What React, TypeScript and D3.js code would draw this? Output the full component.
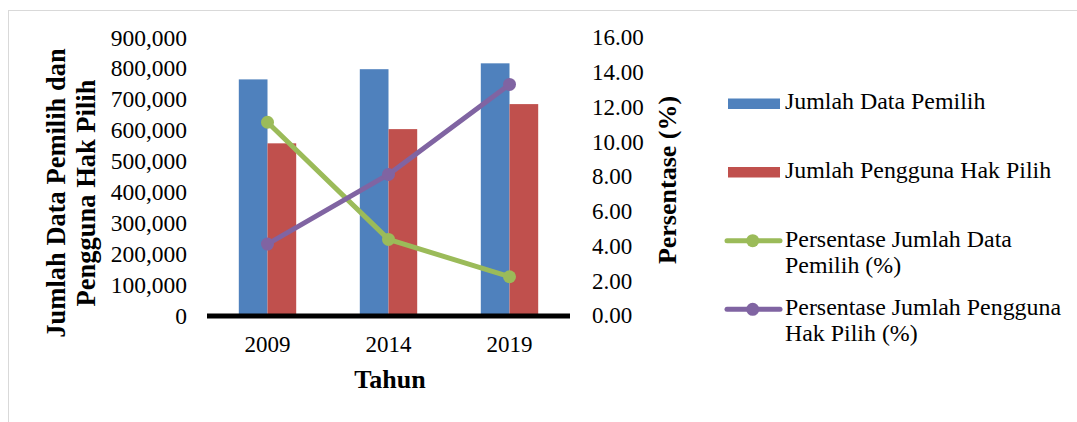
import React from "react";
import * as d3 from "d3";

const years = ["2009", "2014", "2019"];
const jumlahDataPemilih = [766000, 799000, 818000];
const jumlahPenggunaHakPilih = [559000, 605000, 686000];
const persenDataPemilih = [11.15, 4.41, 2.26];
const persenPenggunaHakPilih = [4.14, 8.15, 13.33];
const leftTicks = [0, 100000, 200000, 300000, 400000, 500000, 600000, 700000, 800000, 900000];
const rightTicks = [0, 2, 4, 6, 8, 10, 12, 14, 16];

const BLUE = "#4F81BD";
const RED = "#C0504D";
const GREEN = "#9BBB59";
const PURPLE = "#8064A2";
const FONT = "Liberation Serif";

export default function App() {
  const x = d3.scaleBand().domain(years).range([207, 570]);
  const yL = d3.scaleLinear().domain([0, 900000]).range([316, 38]);
  const yR = d3.scaleLinear().domain([0, 16]).range([316, 38]);
  const barW = 28.7;
  const cx = (y: string) => (x(y) as number) + x.bandwidth() / 2;
  const fmtL = d3.format(",");
  const fmtR = d3.format(".2f");
  const line = d3
    .line<number>()
    .x((_, i) => cx(years[i]))
    .y((v) => yR(v));

  const legendText = { fontFamily: FONT, fontSize: 23.9, fill: "#000" } as const;

  return (
    <svg
      width={1077}
      height={422}
      style={{ position: "absolute", left: 0, top: 0, background: "#fff" }}
    >
      <rect x={8.5} y={10.5} width={1080} height={420} fill="#fff" stroke="#d9d9d9" strokeWidth={1} />

      {/* bars */}
      {years.map((yr, i) => (
        <g key={yr}>
          <rect x={cx(yr) - barW} y={yL(jumlahDataPemilih[i])} width={barW} height={316 - yL(jumlahDataPemilih[i])} fill={BLUE} />
          <rect x={cx(yr)} y={yL(jumlahPenggunaHakPilih[i])} width={barW} height={316 - yL(jumlahPenggunaHakPilih[i])} fill={RED} />
        </g>
      ))}

      {/* baseline */}
      <line x1={207} x2={570} y1={316} y2={316} stroke="#000" strokeWidth={5} />

      {/* lines */}
      <path d={line(persenDataPemilih) || ""} fill="none" stroke={GREEN} strokeWidth={5} strokeLinejoin="round" />
      <path d={line(persenPenggunaHakPilih) || ""} fill="none" stroke={PURPLE} strokeWidth={5} strokeLinejoin="round" />
      {years.map((yr, i) => (
        <g key={"m" + yr}>
          <circle cx={cx(yr)} cy={yR(persenDataPemilih[i])} r={6.5} fill={GREEN} />
          <circle cx={cx(yr)} cy={yR(persenPenggunaHakPilih[i])} r={6.5} fill={PURPLE} />
        </g>
      ))}

      {/* left ticks */}
      {leftTicks.map((t) => (
        <text key={"l" + t} x={187} y={yL(t)} dy="0.32em" textAnchor="end" fontFamily={FONT} fontSize={23.5}>
          {fmtL(t)}
        </text>
      ))}
      {/* right ticks */}
      {rightTicks.map((t) => (
        <text key={"r" + t} x={592} y={yR(t)} dy="0.32em" textAnchor="start" fontFamily={FONT} fontSize={23}>
          {fmtR(t)}
        </text>
      ))}
      {/* x ticks */}
      {years.map((yr) => (
        <text key={"x" + yr} x={cx(yr)} y={352} textAnchor="middle" fontFamily={FONT} fontSize={23}>
          {yr}
        </text>
      ))}

      {/* axis titles */}
      <text x={390} y={388} textAnchor="middle" fontFamily={FONT} fontSize={26} fontWeight="bold">
        Tahun
      </text>
      <g transform="translate(65,193) rotate(-90)">
        <text x={0} y={0} textAnchor="middle" fontFamily={FONT} fontSize={26.5} fontWeight="bold">
          Jumlah Data Pemilih dan
        </text>
        <text x={0} y={30} textAnchor="middle" fontFamily={FONT} fontSize={26.5} fontWeight="bold">
          Pengguna Hak Pilih
        </text>
      </g>
      <g transform="translate(676,180) rotate(-90)">
        <text x={0} y={0} textAnchor="middle" fontFamily={FONT} fontSize={26} fontWeight="bold">
          Persentase (%)
        </text>
      </g>

      {/* legend */}
      <rect x={728} y={98.5} width={52} height={10.5} fill={BLUE} />
      <text x={785} y={109} {...legendText}>Jumlah Data Pemilih</text>
      <rect x={728} y={167} width={52} height={10.5} fill={RED} />
      <text x={785} y={178} {...legendText}>Jumlah Pengguna Hak Pilih</text>

      <line x1={727} x2={780} y1={240.7} y2={240.7} stroke={GREEN} strokeWidth={5} strokeLinecap="round" />
      <circle cx={752.7} cy={240.7} r={6.5} fill={GREEN} />
      <text x={785} y={247} {...legendText}>Persentase Jumlah Data</text>
      <text x={785} y={273} {...legendText}>Pemilih (%)</text>

      <line x1={727} x2={780} y1={309.3} y2={309.3} stroke={PURPLE} strokeWidth={5} strokeLinecap="round" />
      <circle cx={752.7} cy={309.3} r={6.5} fill={PURPLE} />
      <text x={785} y={315} {...legendText}>Persentase Jumlah Pengguna</text>
      <text x={785} y={341} {...legendText}>Hak Pilih (%)</text>
    </svg>
  );
}
